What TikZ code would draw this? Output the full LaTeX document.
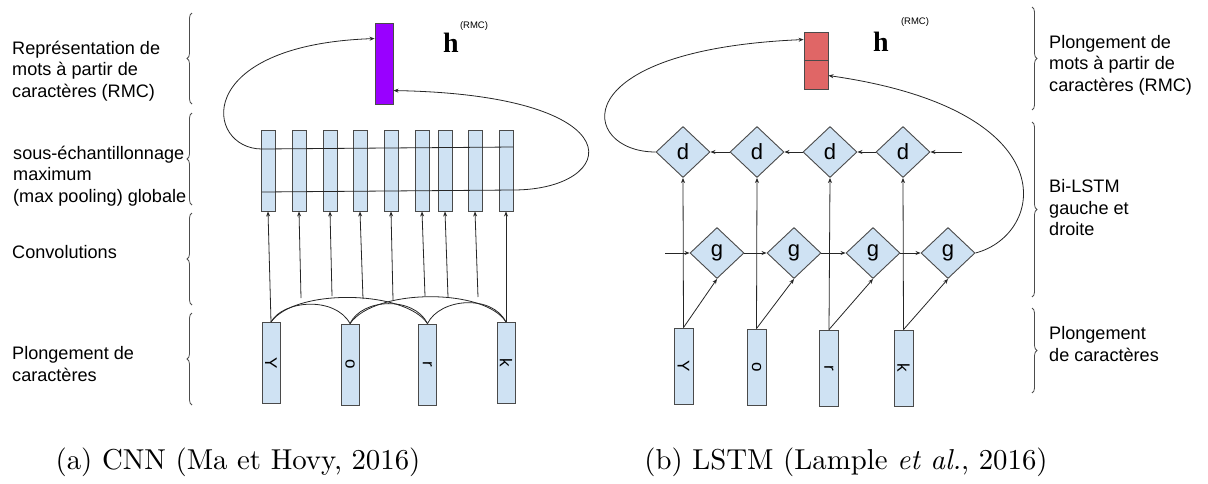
\documentclass[tikz,border=0pt]{standalone}
\usepackage{fontspec}
\usepackage{graphicx}
\newfontfamily\labelfont{Liberation Sans}
\newfontfamily\vecfont{Liberation Serif}
\usetikzlibrary{shapes.geometric,arrows.meta,decorations.pathreplacing,calc}

\definecolor{cellblue}{HTML}{CFE2F3}
\definecolor{cellline}{HTML}{4A4A4A}
\definecolor{violetbox}{HTML}{9900FF}
\definecolor{redbox}{HTML}{E06666}
\definecolor{wire}{HTML}{262626}

\tikzset{
  cell/.style={draw=cellline, fill=cellblue, line width=0.9pt, inner sep=0pt},
  poolcell/.style={cell, minimum width=14pt, minimum height=81pt},
  charcell/.style={cell, minimum width=18pt, minimum height=81pt,
    font=\labelfont\fontsize{17}{17}\selectfont},
  rcharcell/.style={charcell, minimum width=19pt, minimum height=76pt},
  gate/.style={cell, diamond, aspect=1, minimum width=54pt, minimum height=51pt,
    font=\labelfont\fontsize{22}{22}\selectfont},
  link/.style={draw=wire, line width=0.8pt},
  arr/.style={link, -{Stealth[length=5pt,width=4pt]}},
  layerbrace/.style={draw=black!70, line width=0.8pt, decorate,
    decoration={brace, amplitude=5pt}},
  layertext/.style={anchor=west, align=left, inner sep=0pt,
    font=\labelfont\fontsize{18.1}{21.5}\selectfont},
  hvec/.style={inner sep=0pt, font=\vecfont\bfseries\fontsize{28}{28}\selectfont},
  hsup/.style={inner sep=0pt, font=\labelfont\fontsize{9.5}{9.5}\selectfont},
  captext/.style={inner sep=0pt}
}

\begin{document}
\begin{tikzpicture}[x=1pt,y=-1pt]
\useasboundingbox (0,0) rectangle (1208,483);

% ---------------- left: CNN ----------------
% layer labels and braces
\node[layertext] (t1) at (12,71) {Représentation de\\mots à partir de\\caractères (RMC)};
\node[layertext] (t2) at (13,176) {sous-échantillonnage\\maximum\\(max pooling) globale};
\node[layertext] (t3) at (12,252) {Convolutions};
\node[layertext] (t4) at (12,364) {Plongement de\\caractères};
\draw[layerbrace] (192,104) -- (192,13);
\draw[layerbrace] (192,205) -- (192,113);
\draw[layerbrace] (192,305) -- (192,213);
\draw[layerbrace] (192,405) -- (192,313);

% character embeddings
\node[charcell] (ly) at (271,363)   {\rotatebox{-90}{Y}};
\node[charcell] (lo) at (350,364.5) {\rotatebox{-90}{o}};
\node[charcell] (lr) at (427.5,364.5) {\rotatebox{-90}{r}};
\node[charcell] (lk) at (506,363)   {\rotatebox{-90}{k}};

% pooled feature maps
\foreach \i/\x in {1/268,2/299,3/330,4/360,5/391,6/422,7/445,8/475,9/506}
  \node[poolcell] (p\i) at (\x,170.5) {};

% word vector
\node[cell, fill=violetbox, minimum width=18pt, minimum height=81pt] (pb) at (384,63.5) {};
\node[hvec] (hl) at (451,43) {h};
\node[hsup] (hls) at (474,26) {(RMC)};

% convolution windows
\draw[link] (ly.north) .. controls (283,300) and (335,296) .. (lo.north);
\draw[link] (ly.north) .. controls (295,288) and (405,290) .. (lr.north);
\draw[link] (lo.north) .. controls (362,298) and (414,296) .. (lr.north);
\draw[link] (lo.north) .. controls (375,288) and (485,288) .. (lk.north);
\draw[link] (lr.north) .. controls (440,298) and (492,294) .. (lk.north);

\coordinate (c2) at (301,298);
\coordinate (c3) at (332,296);
\coordinate (c4) at (363,299);
\coordinate (c5) at (393,300);
\coordinate (c6) at (425,296);
\coordinate (c7) at (448,297);
\coordinate (c8) at (478,297);
\draw[arr] (ly.north) -- (p1.south);
\foreach \i in {2,...,8} \draw[arr] (c\i) -- (p\i.south);
\draw[arr] (lk.north) -- (p9.south);

% max pooling lines
\coordinate (mu1) at (262,149);
\coordinate (mu2) at (513,147);
\coordinate (ml1) at (262,192);
\coordinate (ml2) at (513,190);
\draw[link] (mu1) -- (mu2);
\draw[link] (ml1) -- (ml2);

\coordinate (pbL) at ($(pb.north west)+(0,16)$);
\coordinate (pbR) at ($(pb.north east)+(0,68)$);
\draw[arr] (mu1) .. controls (205,149) and (190,45) .. (pbL);
\draw[arr] (ml2) .. controls (620,190) and (640,95) .. (pbR);

% ---------------- right: Bi-LSTM ----------------
\node[layertext] (s1) at (1049,65)  {Plongement de\\mots à partir de\\caractères (RMC)};
\node[layertext] (s2) at (1049,208) {Bi-LSTM\\gauche et\\droite};
\node[layertext] (s3) at (1049,344) {Plongement\\de caractères};
\draw[layerbrace] (1032,7) -- (1032,110);
\draw[layerbrace] (1032,122) -- (1032,297);
\draw[layerbrace] (1032,308) -- (1032,393);

\node[rcharcell] (ry) at (683.5,366) {\rotatebox{-90}{Y}};
\node[rcharcell] (ro) at (756.5,367) {\rotatebox{-90}{o}};
\node[rcharcell] (rr) at (829,368)   {\rotatebox{-90}{r}};
\node[rcharcell] (rk) at (903.5,368) {\rotatebox{-90}{k}};

\node[gate] (d1) at (683,152) {d};
\node[gate] (d2) at (757,152) {d};
\node[gate] (d3) at (830,152) {d};
\node[gate] (d4) at (903,152) {d};

\node[gate] (g1) at (717,253) {g};
\node[gate] (g2) at (794,253) {g};
\node[gate] (g3) at (873,253) {g};
\node[gate] (g4) at (948,253) {g};

\node[cell, fill=redbox, minimum width=24pt, minimum height=57pt] (rb) at (816,60.5) {};
\draw[cellline, line width=0.9pt] (rb.west) -- (rb.east);
\node[hvec] (hr) at (881,42) {h};
\node[hsup] (hrs) at (915,22) {(RMC)};

% inputs to both directions
\draw[arr] (ry.north) -- (d1.south);
\draw[arr] (ro.north) -- (d2.south);
\draw[arr] (rr.north) -- (d3.south);
\draw[arr] (rk.north) -- (d4.south);
\draw[arr] (ry.north) -- (g1.south);
\draw[arr] (ro.north) -- (g2.south);
\draw[arr] (rr.north) -- (g3.south);
\draw[arr] (rk.north) -- (g4.south);

% recurrences
\coordinate (gin) at (665,253);
\coordinate (din) at (962,152);
\draw[arr] (gin) -- (g1.west);
\draw[arr] (g1.east) -- (g2.west);
\draw[arr] (g2.east) -- (g3.west);
\draw[arr] (g3.east) -- (g4.west);
\draw[arr] (din) -- (d4.east);
\draw[arr] (d4.west) -- (d3.east);
\draw[arr] (d3.west) -- (d2.east);
\draw[arr] (d2.west) -- (d1.east);

\coordinate (rbL) at ($(rb.north west)+(0,8)$);
\coordinate (rbR) at ($(rb.north east)+(0,44)$);
\draw[arr] (d1.west) .. controls (580,152) and (560,50) .. (rbL);
\draw[arr] (g4.east) .. controls (1045,235) and (1070,110) .. (rbR);

% ---------------- captions ----------------
\node[captext] (capa) at (238,462) {\scalebox{2.88}{(a) CNN (Ma et Hovy, 2016)}};
\node[captext] (capb) at (846,462) {\scalebox{2.88}{(b) LSTM (Lample \textit{et al.}, 2016)}};
\end{tikzpicture}
\end{document}
